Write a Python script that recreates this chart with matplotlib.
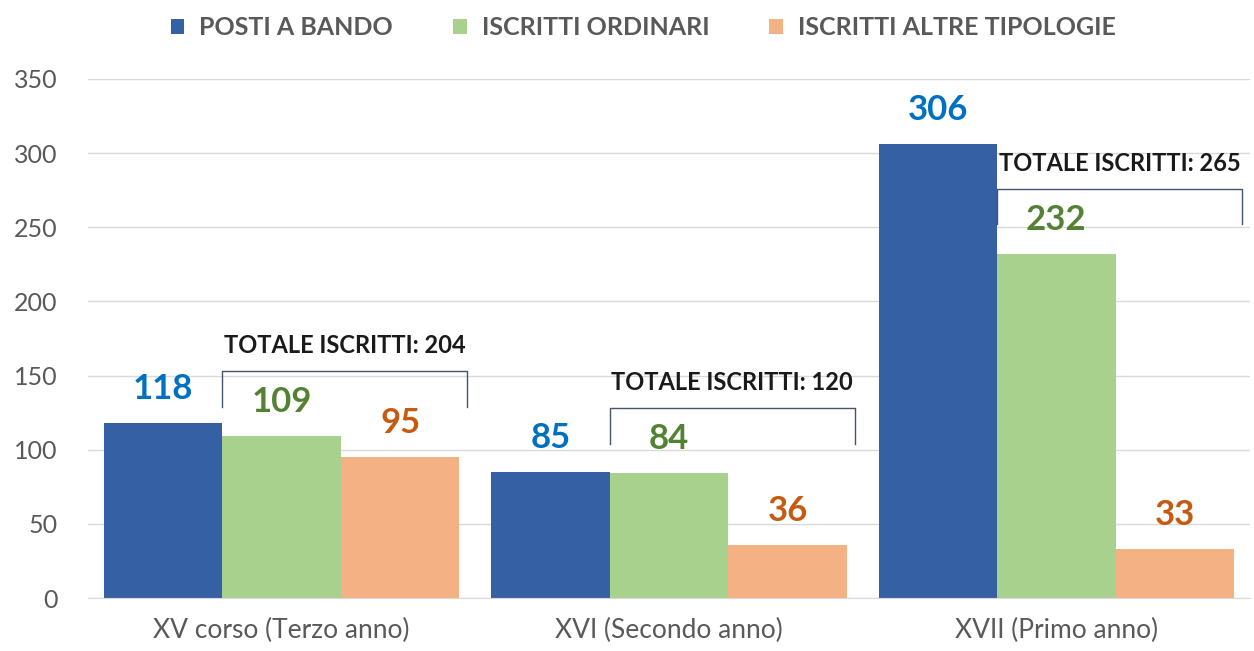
import numpy as np
import matplotlib.pyplot as plt

# data
categories = ['XV corso (Terzo anno)', 'XVI (Secondo anno)', 'XVII (Primo anno)']
series_names = ['POSTI A BANDO', 'ISCRITTI ORDINARI', 'ISCRITTI ALTRE TIPOLOGIE']
posti = [118, 85, 306]
ordinari = [109, 84, 232]
altre = [95, 36, 33]

bar_colors = ['#3560A3', '#A9D18E', '#F4B183']
label_colors = ['#0070C0', '#548235', '#C55A11']

plt.rcParams['font.family'] = ['Lato', 'DejaVu Sans']

fig = plt.figure(figsize=(12.54, 6.51), dpi=100)
ax = fig.add_axes([88/1254, 53/651, 1162/1254, 519/651])

x = np.arange(len(categories))
w = 0.306
series = [posti, ordinari, altre]
for i, vals in enumerate(series):
    xs = x + (i - 1) * w
    ax.bar(xs, vals, width=w, color=bar_colors[i], label=series_names[i], zorder=2)
    for xi, v in zip(xs, vals):
        ax.text(xi, v + 23, str(v), ha='center', va='center', fontsize=25,
                fontweight='bold', color=label_colors[i], zorder=3)

# brackets with totals of enrolled students
for k in range(len(categories)):
    tot = ordinari[k] + altre[k]
    x0 = x[k] - w / 2
    x1 = x[k] + 1.5 * w + 0.02
    y0 = max(ordinari[k], altre[k]) + 20
    y1 = y0 + 24
    ax.plot([x0, x0, x1, x1], [y0, y1, y1, y0], color='#44546A', lw=1.0, zorder=3)
    ax.text((x0 + x1) / 2, y1 + 17, 'TOTALE ISCRITTI: %d' % tot, ha='center', va='center',
            fontsize=17, fontweight='bold', color='#1a1a1a')

ax.set_xlim(-0.5, 2.5)
ax.set_ylim(0, 350)
ax.set_yticks(range(0, 351, 50))
ax.set_xticks(x)
ax.set_xticklabels(categories)
ax.grid(axis='y', color='#D9D9D9', lw=1, zorder=0)
ax.set_axisbelow(True)
for s in ['top', 'right', 'left']:
    ax.spines[s].set_visible(False)
ax.spines['bottom'].set_color('#D9D9D9')
ax.tick_params(axis='both', length=0, colors='#595959')
ax.tick_params(axis='x', pad=14, labelsize=19)
ax.tick_params(axis='y', pad=22, labelsize=18)

leg = fig.legend(loc='upper center', bbox_to_anchor=(0.513, 1.01), ncol=3, frameon=False,
                 handlelength=0.55, handleheight=0.55, columnspacing=2.4, handletextpad=0.6,
                 prop={'weight': 'bold', 'size': 18})
for t in leg.get_texts():
    t.set_color('#595959')

fig.savefig('out.png', dpi=100)
